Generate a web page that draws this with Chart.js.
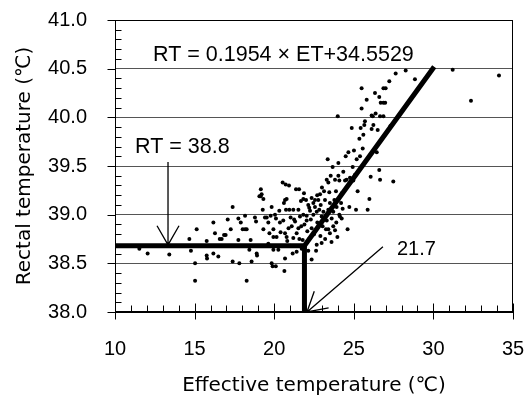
<!DOCTYPE html>
<html><head><meta charset="utf-8">
<script src="https://cdn.jsdelivr.net/npm/chart.js@4"></script>
<style>html,body{margin:0;padding:0;background:#fff}canvas{display:block}</style>
</head><body>
<canvas id="c" width="527" height="396"></canvas>
<script>
// Scatter data: effective temperature (ET) and rectal temperature (RT)
const etValues = [
11.53,12.05,13.41,14.67,14.77,15.13,15.03,15.03,15.76,15.76,15.78,16.18,16.18,16.28,16.49,16.58,16.70,16.85,16.95,17.08,
17.27,17.39,17.39,17.75,17.81,17.75,17.90,18.02,18.17,18.27,18.17,18.27,18.44,18.52,18.58,18.79,18.86,18.90,18.92,19.07,
19.16,19.21,19.32,19.28,19.32,19.42,19.53,19.63,19.63,19.70,19.78,19.84,19.95,19.95,19.95,19.84,19.90,20.10,20.05,20.11,
20.15,20.26,20.32,20.36,20.53,20.57,20.61,20.68,20.68,20.64,20.72,20.68,20.74,20.78,20.82,20.95,21.03,21.10,21.16,21.20,
21.20,21.31,21.37,21.41,21.41,21.52,21.52,21.58,21.62,21.68,21.73,21.79,21.83,21.83,21.87,22.00,22.04,22.04,22.08,22.14,
22.14,22.20,22.25,22.35,22.35,22.35,22.46,22.46,22.56,22.56,22.63,22.67,22.67,22.71,22.77,22.83,22.88,22.92,22.98,22.98,
23.04,23.09,23.13,23.19,23.25,23.30,23.30,23.36,23.40,23.40,23.46,23.50,23.50,23.55,23.61,23.67,23.71,23.71,23.78,23.82,
23.82,23.88,23.92,23.97,23.99,24.03,24.03,24.03,24.09,24.09,24.13,24.20,24.24,24.24,24.34,24.45,24.49,24.55,24.61,24.66,
24.72,24.76,24.87,24.93,24.97,25.01,25.08,25.14,25.18,25.24,25.35,25.39,25.43,25.49,25.49,25.56,25.60,25.66,25.70,25.81,
25.87,25.98,26.06,26.12,26.12,26.19,26.23,26.33,26.37,26.44,26.50,26.60,26.60,26.65,26.69,26.65,26.86,27.00,26.86,26.97,
26.86,27.23,27.30,27.48,27.63,28.26,28.84,31.21,32.36,34.12,
19.15,20.78,21.56,20.93,22.50,22.90,23.20,23.60,22.30,22.70,23.00,23.40,23.90,24.30,21.90,22.20,21.00,20.40,20.90,21.25,21.70
];
const rtValues = [
38.65,38.60,38.59,38.75,38.63,38.85,38.50,38.32,38.73,38.58,38.55,38.92,38.60,38.81,38.57,38.75,38.75,38.79,38.79,38.95,
38.85,39.08,38.52,38.74,38.50,38.96,38.92,38.85,38.85,38.85,38.99,38.32,38.64,38.74,38.52,38.97,38.93,38.60,38.58,39.19,
39.26,39.21,39.16,39.05,38.85,38.97,38.97,38.92,38.70,38.81,38.99,39.08,38.85,38.77,38.64,38.50,38.47,38.47,39.00,38.96,
38.77,38.64,39.04,38.92,39.33,38.94,39.12,38.81,38.55,38.42,39.31,39.15,39.05,38.77,38.73,39.05,38.97,38.88,38.60,39.05,
38.76,38.93,39.26,38.81,38.62,39.05,38.86,38.75,38.98,39.14,38.65,38.74,39.16,39.00,39.22,39.15,38.99,38.94,38.83,39.10,
38.63,39.07,39.04,38.54,38.86,39.17,39.12,39.00,39.15,39.08,38.63,39.03,38.69,38.92,39.15,39.05,39.21,39.10,38.98,38.71,
38.88,39.03,39.24,39.15,38.85,38.94,39.36,39.57,39.33,38.85,39.23,39.12,38.81,39.40,38.96,39.49,39.03,38.88,39.15,39.36,
38.84,39.24,39.08,38.77,40.01,39.53,39.40,39.15,39.35,39.00,38.98,39.12,39.22,38.96,39.44,39.35,39.60,39.36,38.85,39.64,
39.08,39.38,39.89,39.49,39.35,39.66,39.41,39.05,39.57,39.24,39.78,39.60,39.89,40.30,40.09,39.68,39.82,39.92,39.96,40.18,
39.05,39.16,39.39,40.02,39.88,40.01,39.92,40.25,40.04,39.64,39.87,39.46,40.21,39.36,40.15,40.01,40.30,40.30,40.15,40.15,
40.01,40.37,39.91,39.34,40.45,40.48,40.39,40.49,40.17,40.43,
39.19,39.16,39.26,39.30,38.80,38.78,38.75,38.72,38.95,39.20,39.28,39.05,38.92,39.06,38.90,38.75,38.68,38.82,38.86,38.95,38.88
];
// Broken-line fit
const fitX = [10, 21.9, 30.05];
const fitY = [38.68, 38.68, 40.52];
const breakX = [21.9, 21.9];
const breakY = [38.68, 38.0];
// Axes
const xTickLabels = ['10','15','20','25','30','35'];
const yTickLabels = ['38.0','38.5','39.0','39.5','40.0','40.5','41.0'];
const xTitle = 'Effective temperature (℃)';
const yTitle = 'Rectal temperature (℃)';
// Annotations (data units)
const noteTexts = ['RT = 0.1954 × ET+34.5529', 'RT = 38.8', '21.7'];
const noteX = [12.39, 11.26, 27.71];
const noteY = [40.64, 39.69, 38.64];
const noteSizes = [21.5, 21.5, 20];
const arrowFromX = [13.33, 26.83];
const arrowFromY = [39.54, 38.67];
const arrowToX = [13.33, 22.06];
const arrowToY = [38.69, 38.0];

const FONT = '"Liberation Sans", Arial, "Noto Sans CJK JP", sans-serif';
const TFONT = '"DejaVu Sans", "Noto Sans CJK JP", sans-serif';
const points = etValues.map((x, i) => ({x, y: rtValues[i]}));
const fitPts = fitX.map((x, i) => ({x, y: fitY[i]}));
const brkPts = breakX.map((x, i) => ({x, y: breakY[i]}));

const isMajorY = v => yTickLabels.includes(Number(v).toFixed(1));
const xKey = v => String(Math.round(v * 1000) / 1000);
const isMajorX = v => xTickLabels.includes(xKey(v));

const decor = {
  id: 'decor',
  afterDatasetsDraw(chart) {
    const {ctx, chartArea: a, scales: {x, y}} = chart;
    ctx.save();
    ctx.strokeStyle = '#000';
    ctx.lineWidth = 1;
    // frame
    ctx.strokeRect(Math.round(a.left) + 0.5, Math.round(a.top) + 0.5, Math.round(a.right - a.left) - 1, Math.round(a.bottom - a.top) - 1);
    // x ticks
    const xb = Math.round(a.bottom) - 0.5;
    x.ticks.forEach(t => {
      const px = Math.round(x.getPixelForValue(t.value)) + 0.5;
      ctx.beginPath();
      if (isMajorX(t.value)) { ctx.moveTo(px, xb - 8); ctx.lineTo(px, xb + 8); }
      else { ctx.moveTo(px, xb - 6); ctx.lineTo(px, xb); }
      ctx.stroke();
    });
    // y ticks
    const yl = Math.round(a.left) + 0.5;
    y.ticks.forEach(t => {
      const py = Math.round(y.getPixelForValue(t.value)) + 0.5;
      ctx.beginPath();
      if (isMajorY(t.value)) { ctx.moveTo(yl - 8, py); ctx.lineTo(yl, py); }
      else { ctx.moveTo(yl, py); ctx.lineTo(yl + 6, py); }
      ctx.stroke();
    });
    // annotation texts
    ctx.fillStyle = '#000';
    ctx.textAlign = 'left';
    ctx.textBaseline = 'middle';
    noteTexts.forEach((s, i) => {
      ctx.font = noteSizes[i] + 'px ' + FONT;
      ctx.fillText(s, x.getPixelForValue(noteX[i]), y.getPixelForValue(noteY[i]));
    });
    // arrows
    ctx.lineWidth = 1.3;
    arrowFromX.forEach((fx, i) => {
      const x0 = x.getPixelForValue(fx), y0 = y.getPixelForValue(arrowFromY[i]);
      const x1 = x.getPixelForValue(arrowToX[i]), y1 = y.getPixelForValue(arrowToY[i]);
      const ang = Math.atan2(y0 - y1, x0 - x1);
      const L = 22, h = Math.PI / 6;
      ctx.beginPath();
      ctx.moveTo(x0, y0); ctx.lineTo(x1, y1);
      ctx.moveTo(x1 + L * Math.cos(ang - h), y1 + L * Math.sin(ang - h));
      ctx.lineTo(x1, y1);
      ctx.lineTo(x1 + L * Math.cos(ang + h), y1 + L * Math.sin(ang + h));
      ctx.stroke();
    });
    ctx.restore();
  }
};

new Chart(document.getElementById('c'), {
  type: 'scatter',
  data: {
    datasets: [
      {type: 'line', data: fitPts, borderColor: '#000', borderWidth: 5, pointRadius: 0, fill: false, tension: 0, borderCapStyle: 'butt', borderJoinStyle: 'miter'},
      {type: 'line', data: brkPts, borderColor: '#000', borderWidth: 5, pointRadius: 0, fill: false, tension: 0, borderCapStyle: 'butt'},
      {data: points, pointRadius: 2, backgroundColor: '#000', borderWidth: 0, pointHoverRadius: 2}
    ]
  },
  options: {
    responsive: false,
    animation: false,
    events: [],
    layout: {padding: {top: 20, right: 14, left: 0, bottom: 0}},
    plugins: {legend: {display: false}, tooltip: {enabled: false}},
    scales: {
      x: {
        type: 'linear', min: 10, max: 35,
        afterFit: s => { s.height = 84; s.paddingLeft = 0; s.paddingRight = 0; },
        ticks: {stepSize: 1, autoSkip: false, maxRotation: 0, maxTicksLimit: 1000, padding: 25, color: '#000',
          font: {family: FONT, size: 20},
          callback: v => isMajorX(v) ? xTickLabels[xTickLabels.indexOf(xKey(v))] : ''},
        grid: {color: 'transparent', drawTicks: false},
        border: {display: true, color: '#000', width: 1},
        title: {display: true, text: xTitle, color: '#000', font: {family: TFONT, size: 20, lineHeight: 1}, padding: {top: 0, bottom: 0}}
      },
      y: {
        type: 'linear', min: 38, max: 41,
        afterFit: s => { s.width = 115; s.paddingTop = 0; s.paddingBottom = 0; },
        ticks: {stepSize: 0.1, autoSkip: false, maxTicksLimit: 1000, padding: 28, color: '#000',
          font: {family: FONT, size: 20},
          callback: v => isMajorY(v) ? yTickLabels[yTickLabels.indexOf(Number(v).toFixed(1))] : ''},
        grid: {color: ctx => (ctx.tick && isMajorY(ctx.tick.value)) ? '#555' : 'transparent', drawTicks: false},
        border: {display: true, color: '#000', width: 1},
        title: {display: true, text: yTitle, color: '#000', font: {family: TFONT, size: 20, lineHeight: 1.2}, padding: {top: 13, bottom: 0}}
      }
    }
  },
  plugins: [decor]
});
</script>
</body></html>
